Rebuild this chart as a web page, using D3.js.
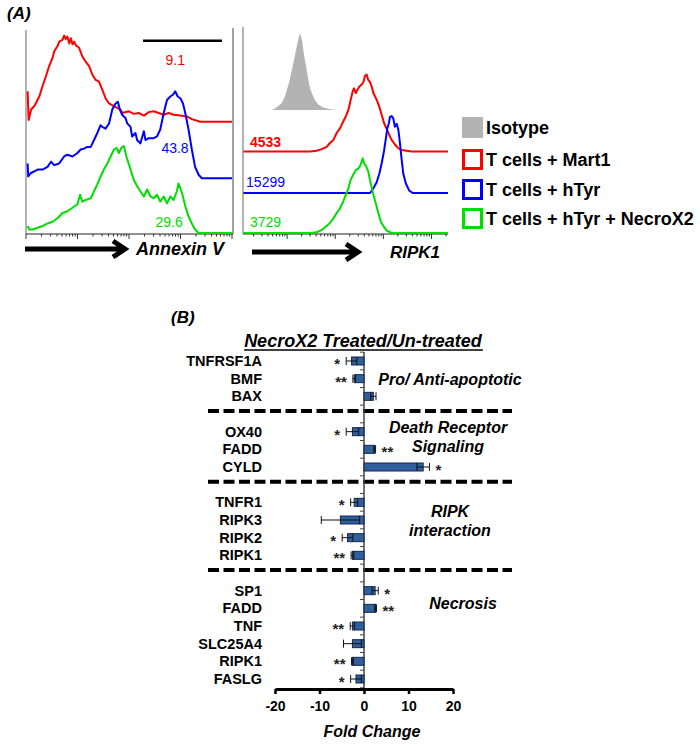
<!DOCTYPE html>
<html>
<head>
<meta charset="utf-8">
<script src="https://cdn.jsdelivr.net/npm/d3@7"></script>
<style>
    body { margin: 0; background: #fff; }
    svg { display: block; font-family: "Liberation Sans", Arial, sans-serif; }
</style>
</head>
<body>
<div id="chart"></div>
<script>
// ---- panel A : flow histograms, [channel 0-100, count as % of peak] ----
const annexinMart1 = [[0.3,35],[0.8,2],[2,14],[3.6,18],[6,29],[7.6,41],[9.2,52],[10.8,64],[12.4,73],[13.3,81],[14.9,87],[15.7,92],[17.3,94],[18.1,99],[18.9,95],[19.7,98],[20.6,90],[21.4,96],[22.2,89],[23,92],[23.8,88],[25.4,85],[27,75],[28.6,69],[30.3,64],[31.9,54],[33.5,48],[35.1,46],[36.7,37],[38.3,27],[40,21],[42.4,18],[45.6,14],[46.4,10],[49.7,12],[52.1,9],[54.5,10],[57,7],[59.4,11],[61.8,12],[64.2,10],[66.7,8],[69.1,10],[71.5,8],[74.8,7],[78,6],[80.4,3],[84.5,0],[100,0]];
const annexinHTyr = [[0.3,17],[0.6,2],[1.9,6],[3.6,8],[5.2,10],[7.6,10],[10,13],[11.7,19],[13.3,15],[15.7,17],[18.1,25],[19.7,27],[22.2,25],[24.6,29],[26.2,33],[27.8,34],[29.4,36],[31.1,36],[32.7,44],[34.3,52],[35.9,61],[36.7,59],[38.3,57],[40,63],[41.6,79],[43.2,86],[44.3,88],[45.3,79],[46.4,73],[48.1,69],[48.9,63],[50.5,59],[51.3,48],[52.9,52],[53.7,44],[55.3,40],[57,54],[57.8,44],[59.4,46],[61.8,46],[63.4,48],[65,56],[66.7,75],[68.3,90],[69.9,94],[71.2,96],[72.3,100],[73.5,94],[74.8,92],[76.1,86],[77.2,75],[78.8,56],[80.4,33],[82,13],[83.7,4],[85.3,0],[100,0]];
const annexinNecroX2 = [[0.3,8],[1.1,4],[2.8,4],[5.2,6],[7.6,8],[10,11],[12.5,13],[14.9,17],[17.3,23],[19.7,25],[22.2,29],[24.6,33],[25.9,44],[27,36],[28.6,38],[31.1,40],[32.7,48],[34.3,56],[35.9,65],[37.5,73],[39.2,80],[40.8,88],[42.4,96],[43.7,98],[44.8,92],[46,98],[47.2,100],[48.5,88],[50.5,73],[52.1,61],[53.7,54],[55.3,48],[57,42],[58.6,50],[60.2,42],[61.8,40],[63.4,44],[65,36],[66.7,42],[68.3,34],[69.9,42],[71.5,38],[73.1,48],[73.9,57],[75.6,46],[77.2,31],[78.8,19],[80.4,11],[82,4],[83.7,0],[100,0]];
const annexinOffsets = [128, 63, 0];
const annexinPct = ["9.1", "43.8", "29.6"];

const ripkIsotype = [[14,0],[15.6,2],[17.2,5],[18.9,9],[20,15],[21,22],[21.6,28],[22.6,37],[23.7,50],[24.6,61],[25.4,72],[26.2,82],[26.7,89],[27.3,95],[27.8,100],[28.3,95],[28.9,89],[29.4,78],[30.2,65],[31.1,52],[31.9,39],[32.7,28],[34,19],[35.1,13],[36.7,7],[39.2,3],[42.4,1],[46.5,0]];
const ripkMart1 = [[0.2,0],[32.7,0],[35.9,1],[38.4,3],[40.8,6],[42.4,11],[44.1,15],[45.7,24],[47.3,30],[48.9,39],[50.2,46],[51.4,54],[52.5,67],[53.5,78],[54.1,82],[55.1,76],[55.8,80],[56.7,84],[57.9,87],[58.7,90],[59.5,98],[60.3,100],[61.1,93],[62,90],[62.8,84],[63.6,76],[65.2,67],[66.5,58],[67.6,48],[68.8,37],[69.8,31],[70.9,24],[72.5,15],[74.1,9],[75.8,4],[77.4,2],[79.8,1],[82.3,0],[100,0]];
const ripkHTyr = [[0.2,0],[62,0],[63.6,6],[65.2,14],[66.5,25],[67.6,38],[68.8,55],[69.8,73],[70.4,84],[71.1,90],[71.7,99],[72.5,100],[73.3,97],[74.1,86],[75,90],[75.8,82],[76.6,64],[77.4,43],[78.2,25],[79.5,12],[81.1,3],[82.8,0],[100,0]];
const ripkNecroX2 = [[0.2,0],[32.7,0],[35.9,1],[38.4,4],[40.8,9],[42.4,13],[44.1,19],[45.7,26],[47.3,32],[48.9,41],[50.2,50],[51.4,58],[52.5,69],[53.8,76],[55.1,82],[56.3,84],[57.1,87],[57.9,93],[58.4,97],[59,91],[60,87],[61.1,80],[62,68],[62.8,59],[63.6,50],[64.9,37],[66,26],[67.2,15],[68.5,9],[70.1,3],[72.5,0],[100,0]];
const ripkOffsets = [160, 106, 52, 0];
const ripkMfi = ["4533", "15299", "3729"];

const legendLabels = ["Isotype", "T cells + Mart1", "T cells + hTyr", "T cells + hTyr + NecroX2"];

// ---- panel B : qPCR fold change ----
const genes = ["TNFRSF1A","BMF","BAX","OX40","FADD","CYLD","TNFR1","RIPK3","RIPK2","RIPK1","SP1","FADD","TNF","SLC25A4","RIPK1","FASLG"];
const geneGroup = [0,0,0,1,1,1,2,2,2,2,3,3,3,3,3,3];
const foldChange = [-2.8,-2.2,2.1,-2.6,2.4,13.3,-2.2,-5.3,-3.7,-2.6,2.5,2.6,-2.6,-2.6,-2.6,-1.8];
const foldErr = [1.2,0.3,0.6,1.4,0.2,1.4,0.8,4.3,1.2,0.3,0.7,0.2,0.5,2.0,0.2,1.2];
const signif = ["*","**","","*","**","*","*","","*","**","*","**","**","","**","*"];
const groupNames = [["Pro/ Anti-apoptotic"], ["Death Receptor", "Signaling"], ["RIPK", "interaction"], ["Necrosis"]];
const foldTicks = [-20, -10, 0, 10, 20];

const colors = ["#b3b3b3", "#ff0000", "#0000ff", "#00dd00"];

const svg = d3.select("#chart").append("svg")
    .attr("width", 700)
    .attr("height", 751);

// log style tick marks under a histogram
function flowTicks(logScale, y, xMin, xMax) {
    const g = svg.append("g");
    logScale.ticks().forEach(t => {
        const x = logScale(t);
        if (x < xMin || x > xMax) return;
        const major = Math.abs(Math.log10(t) - Math.round(Math.log10(t))) < 1e-6;
        g.append("line")
            .attr("x1", x).attr("x2", x)
            .attr("y1", y).attr("y2", y + (major ? 5 : 2.5))
            .attr("stroke", "#333").attr("stroke-width", 1);
    });
}

function arrow(x1, x2, y) {
    svg.append("path")
        .attr("d", `M${x1},${y}H${x2 - 1}M${x2 - 12},${y - 8}L${x2},${y}L${x2 - 12},${y + 8}`)
        .attr("fill", "none")
        .attr("stroke", "#000")
        .attr("stroke-width", 5);
}

// ---------- Annexin V panel ----------
const xA = d3.scaleLinear().domain([0, 100]).range([27, 232]);
const yA = d3.scaleLinear().domain([0, 230]).range([233, 33]);

svg.append("line").attr("x1", 26).attr("x2", 26).attr("y1", 30).attr("y2", 234).attr("stroke", "#666");
svg.append("line").attr("x1", 233).attr("x2", 233).attr("y1", 28).attr("y2", 234).attr("stroke", "#444");
svg.append("line").attr("x1", 26).attr("x2", 233).attr("y1", 234).attr("y2", 234).attr("stroke", "#222");
flowTicks(d3.scaleLog().domain([1, 1e4]).range([26, 232]), 234, 26, 233);

[annexinMart1, annexinHTyr, annexinNecroX2].forEach((series, i) => {
    const off = annexinOffsets[i];
    svg.append("path")
        .datum(series)
        .attr("fill", "none")
        .attr("stroke", colors[i + 1])
        .attr("stroke-width", 2)
        .attr("stroke-linejoin", "round")
        .attr("d", d3.line().x(d => xA(d[0])).y(d => yA(d[1] + off)));
});

// gate bar + percentages
svg.append("line")
    .attr("x1", xA(56.6)).attr("x2", xA(95.1))
    .attr("y1", yA(221)).attr("y2", yA(221))
    .attr("stroke", "#000").attr("stroke-width", 2.5);
const pctPos = [[72.3, 65], [72.2, 29], [69.3, 7]];
annexinPct.forEach((t, i) => {
    svg.append("text")
        .attr("x", xA(pctPos[i][0]))
        .attr("y", yA(annexinOffsets[i] + pctPos[i][1]))
        .attr("text-anchor", "middle")
        .attr("font-size", 14)
        .attr("fill", colors[i + 1])
        .text(t);
});

arrow(25, 125, 249);
svg.append("text").attr("x", 136).attr("y", 255)
    .attr("font-size", 18).attr("font-weight", "bold").attr("font-style", "italic")
    .text("Annexin V");

svg.append("text").attr("x", 7).attr("y", 19)
    .attr("font-size", 17).attr("font-weight", "bold").attr("font-style", "italic")
    .text("(A)");

// ---------- RIPK1 panel ----------
const xR = d3.scaleLinear().domain([0, 100]).range([243, 448]);
const yR = d3.scaleLinear().domain([0, 260]).range([233, 33]);

svg.append("line").attr("x1", 243).attr("x2", 243).attr("y1", 27).attr("y2", 234).attr("stroke", "#666");
svg.append("line").attr("x1", 243).attr("x2", 448).attr("y1", 234).attr("y2", 234).attr("stroke", "#222");
flowTicks(d3.scaleLog().domain([10, 2.2e5]).range([239, 448]), 234, 243, 448);

svg.append("path")
    .datum(ripkIsotype)
    .attr("fill", colors[0])
    .attr("d", d3.area().x(d => xR(d[0])).y0(yR(ripkOffsets[0])).y1(d => yR(d[1] + ripkOffsets[0])));

[ripkMart1, ripkHTyr, ripkNecroX2].forEach((series, i) => {
    const off = ripkOffsets[i + 1];
    svg.append("path")
        .datum(series)
        .attr("fill", "none")
        .attr("stroke", colors[i + 1])
        .attr("stroke-width", 2)
        .attr("stroke-linejoin", "round")
        .attr("d", d3.line().x(d => xR(d[0])).y(d => yR(d[1] + off)));
});

const mfiPos = [[3.4, 6], [1.5, 8], [3.4, 8]];
ripkMfi.forEach((t, i) => {
    svg.append("text")
        .attr("x", xR(mfiPos[i][0]))
        .attr("y", yR(ripkOffsets[i + 1] + mfiPos[i][1]))
        .attr("font-size", 14)
        .attr("font-weight", i === 0 ? "bold" : "normal")
        .attr("fill", colors[i + 1])
        .text(t);
});

arrow(252, 358, 252);
svg.append("text").attr("x", 390).attr("y", 258)
    .attr("font-size", 17).attr("font-weight", "bold").attr("font-style", "italic")
    .text("RIPK1");

// legend
const legend = svg.append("g").attr("transform", "translate(462,117)");
legendLabels.forEach((t, i) => {
    const row = legend.append("g").attr("transform", `translate(0,${[0, 32, 62, 91][i]})`);
    if (i === 0) {
        row.append("rect").attr("width", 21).attr("height", 21).attr("fill", colors[0]);
    } else {
        row.append("rect").attr("x", 1.5).attr("y", 1.5).attr("width", 18).attr("height", 18)
            .attr("fill", "none").attr("stroke", colors[i]).attr("stroke-width", 3);
    }
    row.append("text").attr("x", 24).attr("y", 17)
        .attr("font-size", 18).attr("font-weight", "bold")
        .text(t);
});

// ---------- panel B ----------
svg.append("text").attr("x", 171).attr("y", 323)
    .attr("font-size", 17).attr("font-weight", "bold").attr("font-style", "italic")
    .text("(B)");

const title = svg.append("text").attr("x", 363).attr("y", 347)
    .attr("text-anchor", "middle")
    .attr("font-size", 18).attr("font-weight", "bold").attr("font-style", "italic")
    .text("NecroX2 Treated/Un-treated");
const tb = title.node().getBBox();
svg.append("line")
    .attr("x1", tb.x).attr("x2", tb.x + tb.width)
    .attr("y1", 350).attr("y2", 350)
    .attr("stroke", "#000").attr("stroke-width", 1.5);

// slots : genes plus a blank row between groups
const slots = [];
genes.forEach((g, i) => {
    if (i > 0 && geneGroup[i] !== geneGroup[i - 1]) slots.push("sep" + geneGroup[i]);
    slots.push("g" + i);
});

const xB = d3.scaleLinear().domain([-20, 20]).range([275, 453]);
const yB = d3.scalePoint().domain(slots).range([361, 679]);
const step = yB.step();

// dashed separators
slots.filter(s => s.startsWith("sep")).forEach(s => {
    svg.append("line")
        .attr("x1", 208).attr("x2", 512)
        .attr("y1", yB(s) - 3).attr("y2", yB(s) - 3)
        .attr("stroke", "#000")
        .attr("stroke-width", 4)
        .attr("stroke-dasharray", "11,4.5");
});

// vertical zero axis with small ticks
svg.append("line")
    .attr("x1", xB(0)).attr("x2", xB(0))
    .attr("y1", 352).attr("y2", 689)
    .attr("stroke", "#444").attr("stroke-width", 1.5);
d3.range(slots.length + 1).forEach(k => {
    const y = 361 - step / 2 + k * step;
    svg.append("line")
        .attr("x1", xB(0) - 4).attr("x2", xB(0))
        .attr("y1", y).attr("y2", y)
        .attr("stroke", "#444").attr("stroke-width", 1);
});

// gene names
genes.forEach((g, i) => {
    svg.append("text")
        .attr("x", 262).attr("y", yB("g" + i) + 5)
        .attr("text-anchor", "end")
        .attr("font-size", 14.5).attr("font-weight", "bold")
        .text(g);
});

// bars
const barH = 8;
svg.selectAll(".bar")
    .data(foldChange)
    .enter()
    .append("rect")
    .attr("class", "bar")
    .attr("x", d => xB(Math.min(0, d)))
    .attr("y", (d, i) => yB("g" + i) - barH / 2)
    .attr("width", d => Math.abs(xB(d) - xB(0)))
    .attr("height", barH)
    .attr("fill", "#2f5f9c")
    .attr("stroke", "#17284a")
    .attr("stroke-width", 1);

// error bars (H shape) and significance stars
foldChange.forEach((v, i) => {
    const y = yB("g" + i);
    const a = xB(v - foldErr[i]), b = xB(v + foldErr[i]);
    svg.append("path")
        .attr("d", `M${a},${y}H${b}M${a},${y - 4}V${y + 4}M${b},${y - 4}V${y + 4}`)
        .attr("fill", "none")
        .attr("stroke", "#111")
        .attr("stroke-width", 1);
    if (signif[i]) {
        const neg = v < 0;
        svg.append("text")
            .attr("x", neg ? a - 6 : b + 6)
            .attr("y", y + 8)
            .attr("text-anchor", neg ? "end" : "start")
            .attr("font-size", 15)
            .attr("font-weight", "bold")
            .attr("fill", "#222")
            .text(signif[i]);
    }
});

// group labels
const groupAt = [[450, 1], [448, 4.27], [450, 9.03], [463, 13.7]];
groupNames.forEach((lines, gi) => {
    const cy = 361 + groupAt[gi][1] * step;
    lines.forEach((t, li) => {
        svg.append("text")
            .attr("x", groupAt[gi][0])
            .attr("y", cy + (li - (lines.length - 1) / 2) * 19 + 6)
            .attr("text-anchor", "middle")
            .attr("font-size", 16).attr("font-weight", "bold").attr("font-style", "italic")
            .text(t);
    });
});

// x axis
const xAxis = svg.append("g")
    .attr("transform", "translate(0,689)")
    .call(d3.axisBottom(xB).tickValues(foldTicks).tickSize(5).tickSizeOuter(0).tickPadding(7).tickFormat(d => String(d)));
xAxis.select(".domain").attr("stroke", "#000").attr("stroke-width", 3);
xAxis.selectAll(".tick line").attr("stroke", "#000").attr("stroke-width", 2.5);
xAxis.selectAll(".tick text")
    .attr("fill", "#000")
    .attr("font-size", 14).attr("font-weight", "bold")
    .attr("font-family", "'Liberation Sans', Arial, sans-serif");

svg.append("text").attr("x", 372).attr("y", 737)
    .attr("text-anchor", "middle")
    .attr("font-size", 16).attr("font-weight", "bold").attr("font-style", "italic")
    .text("Fold Change");
</script>
</body>
</html>
